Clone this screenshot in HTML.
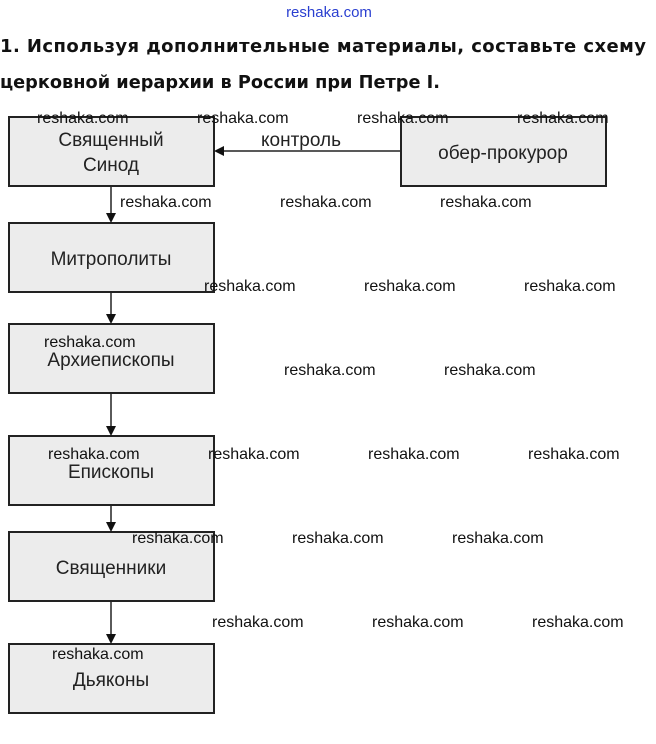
<!DOCTYPE html>
<html><head><meta charset="utf-8"><style>
html,body{margin:0;padding:0;background:#fff;width:656px;height:744px;overflow:hidden}
</style></head><body>
<svg width="656" height="744" xmlns="http://www.w3.org/2000/svg" font-family="Liberation Sans, sans-serif">
<text x="329" y="17" text-anchor="middle" font-size="15" fill="#2a3fd0">reshaka.com</text>
<text x="0" y="52" font-size="18" font-weight="bold" font-family="DejaVu Sans, sans-serif" fill="#111" textLength="646" lengthAdjust="spacing">1. Используя дополнительные материалы, составьте схему</text>
<text x="0" y="88" font-size="18" font-weight="bold" font-family="DejaVu Sans, sans-serif" fill="#111" textLength="440" lengthAdjust="spacingAndGlyphs">церковной иерархии в России при Петре I.</text>
<g fill="#ececec" stroke="#222" stroke-width="2">
<rect x="9" y="117" width="205" height="69"/>
<rect x="401" y="117" width="205" height="69"/>
<rect x="9" y="223" width="205" height="69"/>
<rect x="9" y="324" width="205" height="69"/>
<rect x="9" y="436" width="205" height="69"/>
<rect x="9" y="532" width="205" height="69"/>
<rect x="9" y="644" width="205" height="69"/>
</g>
<g stroke="#222" stroke-width="1.5">
<line x1="222" y1="151" x2="401" y2="151"/>
<line x1="111" y1="186" x2="111" y2="215"/>
<line x1="111" y1="292" x2="111" y2="316"/>
<line x1="111" y1="393" x2="111" y2="428"/>
<line x1="111" y1="505" x2="111" y2="524"/>
<line x1="111" y1="601" x2="111" y2="636"/>
</g>
<g fill="#111">
<polygon points="214,151 224,146 224,156"/>
<polygon points="106,213 116,213 111,223"/>
<polygon points="106,314 116,314 111,324"/>
<polygon points="106,426 116,426 111,436"/>
<polygon points="106,522 116,522 111,532"/>
<polygon points="106,634 116,634 111,644"/>
</g>
<g font-size="19" fill="#222" text-anchor="middle">
<text x="111" y="146">Священный</text>
<text x="111" y="171">Синод</text>
<text x="503" y="159">обер-прокурор</text>
<text x="301" y="146">контроль</text>
<text x="111" y="265">Митрополиты</text>
<text x="111" y="366">Архиепископы</text>
<text x="111" y="478">Епископы</text>
<text x="111" y="574">Священники</text>
<text x="111" y="686">Дьяконы</text>
</g>
<g font-size="16" fill="#111">
<text x="37" y="123">reshaka.com</text><text x="197" y="123">reshaka.com</text><text x="357" y="123">reshaka.com</text><text x="517" y="123">reshaka.com</text>
<text x="120" y="207">reshaka.com</text><text x="280" y="207">reshaka.com</text><text x="440" y="207">reshaka.com</text>
<text x="204" y="291">reshaka.com</text><text x="364" y="291">reshaka.com</text><text x="524" y="291">reshaka.com</text>
<text x="44" y="347">reshaka.com</text>
<text x="284" y="375">reshaka.com</text><text x="444" y="375">reshaka.com</text>
<text x="48" y="459">reshaka.com</text><text x="208" y="459">reshaka.com</text><text x="368" y="459">reshaka.com</text><text x="528" y="459">reshaka.com</text>
<text x="132" y="543">reshaka.com</text><text x="292" y="543">reshaka.com</text><text x="452" y="543">reshaka.com</text>
<text x="212" y="627">reshaka.com</text><text x="372" y="627">reshaka.com</text><text x="532" y="627">reshaka.com</text>
<text x="52" y="659">reshaka.com</text>
</g>
</svg>
</body></html>
